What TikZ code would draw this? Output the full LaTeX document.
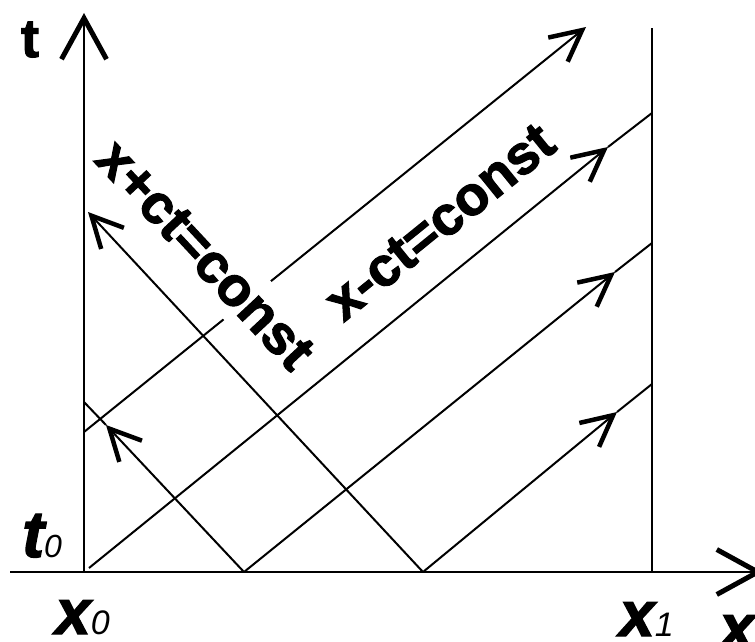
\documentclass[tikz,border=0pt]{standalone}
\usepackage{fontspec}
\setmainfont{Liberation Sans}[
  BoldFeatures={FakeBold=2},
  BoldItalicFeatures={FakeBold=2}
]
\usetikzlibrary{arrows.meta}
\tikzset{
  axis_line/.style = {
    line width=2.8pt,
    -{Straight Barb[length=41pt,width=45pt,line width=5pt]}
  },
  wave_line/.style = {
    line width=2pt
  },
  wave_arrow/.style = {
    line width=2pt,
    -{Straight Barb[length=31pt,width=31pt,line width=4.5pt]}
  },
  formula/.style = {
    font=\fontsize{55}{55}\selectfont\bfseries,
    fill=white,
    inner sep=12pt
  },
  point_label/.style = {
    font=\fontsize{64}{64}\selectfont\bfseries\itshape,
    inner sep=0pt,
    anchor=base west
  }
}

\begin{document}
\begin{tikzpicture}[x=1pt,y=-1pt]
\useasboundingbox (0,0) rectangle (755,642);

% Punkte
\coordinate (x_start) at (10,572);
\coordinate (x_end) at (763,572);
\coordinate (t_start) at (84,572);
\coordinate (t_end) at (84,13);
\coordinate (x1_top) at (652,28);
\coordinate (x1_bot) at (652,572);

\coordinate (a) at (89,568);
\coordinate (b) at (244,572);
\coordinate (c) at (423,572);
\coordinate (d) at (84,432);
\coordinate (e) at (84,402);

\coordinate (a_tip) at (608,147);
\coordinate (a_end) at (652,113);
\coordinate (b_tip) at (615,272);
\coordinate (b_end) at (652,243);
\coordinate (c_tip) at (617,412);
\coordinate (c_end) at (652,384);
\coordinate (d_end) at (586,27);
\coordinate (b_back) at (106,425);
\coordinate (c_back) at (88,212);

% Charakteristiken x-ct=const
\draw[wave_arrow] (a) -- (a_tip);
\draw[wave_line] (a_tip) -- (a_end);
\draw[wave_arrow] (b) -- (b_tip);
\draw[wave_line] (b_tip) -- (b_end);
\draw[wave_arrow] (c) -- (c_tip);
\draw[wave_line] (c_tip) -- (c_end);
\draw[wave_arrow] (d) -- (d_end);

% Charakteristiken x+ct=const
\draw[wave_arrow] (b) -- (b_back);
\draw[wave_line] (b_back) -- (e);
\draw[wave_arrow] (c) -- (c_back);

% Beschriftungen
\node[formula, rotate=-47] (plus) at (205,255) {x+ct=const};
\node[formula, rotate=39] (minus) at (440,222) {x-ct=const};

% Achsen
\draw[axis_line] (x_start) -- (x_end);
\draw[axis_line] (t_start) -- (t_end);
\draw[line width=2.8pt] (x1_bot) -- (x1_top);

\node[font=\fontsize{54}{54}\selectfont\bfseries, inner sep=0pt, anchor=base] (t_lbl) at (30,57) {t};
\node[point_label, font=\fontsize{66}{66}\selectfont\bfseries\itshape] (t0_lbl) at (22,557) {t{\fontsize{32}{32}\selectfont\mdseries 0}};
\node[point_label] (x0_lbl) at (55,634) {x{\fontsize{34}{34}\selectfont\mdseries 0}};
\node[point_label] (x1_lbl) at (619,636) {x{\fontsize{34}{34}\selectfont\mdseries 1}};
\node[point_label] (x_lbl) at (719,649) {x};

\end{tikzpicture}
\end{document}
